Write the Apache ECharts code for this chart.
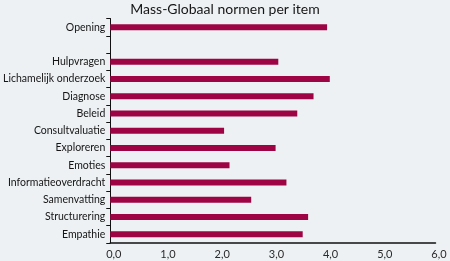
<!DOCTYPE html>
<html><head><meta charset="utf-8">
<script src="https://cdn.jsdelivr.net/npm/echarts@6/dist/echarts.min.js"></script>
<style>html,body{margin:0;padding:0;background:#eef1f4;}#c{width:450px;height:261px;}</style>
</head><body><div id="c"></div>
<script>
const titleText = 'Mass-Globaal normen per item';
const categories = ['Opening','','Hulpvragen','Lichamelijk onderzoek','Diagnose','Beleid','Consultvaluatie','Exploreren','Emoties','Informatieoverdracht','Samenvatting','Structurering','Empathie'];
const values = [4.0, null, 3.1, 4.05, 3.75, 3.45, 2.1, 3.05, 2.2, 3.25, 2.6, 3.65, 3.55];
const xMin = 0, xMax = 6, xStep = 1;

const chart = echarts.init(document.getElementById('c'), null, {renderer:'canvas'});
chart.setOption({
  backgroundColor: '#eef1f4',
  animation: false,
  title: {
    text: titleText, left: 'center', top: -3,
    textStyle: {fontFamily: 'Lato', fontSize: 14, fontWeight: 'normal', color: '#151515'}
  },
  grid: {left: 108.5, right: 14.5, top: 18.5, bottom: 18, containLabel: false},
  xAxis: {
    type: 'value', min: xMin, max: xMax, interval: xStep,
    splitLine: {show: false},
    axisLine: {show: true, lineStyle: {color: '#111', width: 1.5}},
    axisTick: {show: false},
    axisLabel: {
      fontFamily: 'Lato', fontSize: 11, color: '#2a2a2a', margin: 6, padding: [0,0,0,7],
      formatter: v => v.toFixed(1).replace('.', ',')
    }
  },
  yAxis: {
    type: 'category', data: categories, inverse: true,
    axisLine: {show: true, lineStyle: {color: '#111', width: 1}},
    axisTick: {show: true, length: 4, lineStyle: {color: '#111'}},
    axisLabel: {fontFamily: 'Lato', fontSize: 10.5, color: '#151515', margin: 5}
  },
  series: [{
    type: 'bar', data: values, barWidth: 6,
    itemStyle: {color: '#9e0444'}
  }]
});
</script></body></html>
